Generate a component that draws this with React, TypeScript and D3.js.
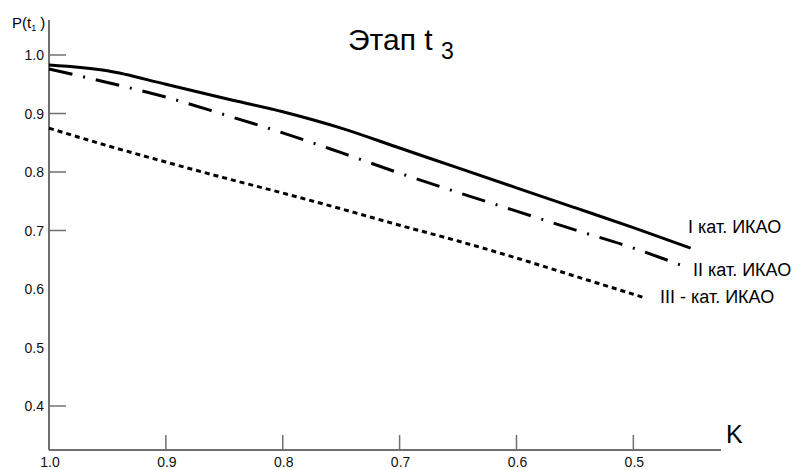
import { useEffect, useRef } from 'react';
import * as d3 from 'd3';

// K values (x axis runs from 1.0 down to ~0.43)
const kCat1 = [1.0, 0.95, 0.9, 0.85, 0.8, 0.75, 0.7, 0.65, 0.6, 0.55, 0.5, 0.451];
const pCat1 = [0.983, 0.973, 0.950, 0.926, 0.903, 0.875, 0.841, 0.807, 0.773, 0.739, 0.705, 0.670];

const kCat2 = [1.0, 0.95, 0.9, 0.85, 0.8, 0.75, 0.7, 0.65, 0.6, 0.55, 0.5, 0.453];
const pCat2 = [0.976, 0.953, 0.928, 0.898, 0.867, 0.833, 0.798, 0.765, 0.733, 0.701, 0.670, 0.636];

const kCat3 = [1.0, 0.95, 0.9, 0.85, 0.8, 0.75, 0.7, 0.65, 0.6, 0.55, 0.5, 0.492];
const pCat3 = [0.875, 0.845, 0.817, 0.790, 0.764, 0.737, 0.709, 0.682, 0.653, 0.622, 0.591, 0.586];

const seriesLabels = ['I кат. ИКАО', 'II кат. ИКАО', 'III - кат. ИКАО'];

const xTicks = [1.0, 0.9, 0.8, 0.7, 0.6, 0.5];
const yTicks = [1.0, 0.9, 0.8, 0.7, 0.6, 0.5, 0.4];
const yTicksWithMark = [1.0, 0.9, 0.8, 0.7, 0.4];

const FONT = '"Liberation Sans", Arial, sans-serif';

const App = () => {
    const graphRef = useRef<SVGSVGElement | null>(null);

    useEffect(() => {
        const svg = d3.select(graphRef.current);
        svg.selectAll('*').remove();

        const x = d3.scaleLinear().domain([1.0, 0.425]).range([49, 721]);
        const y = d3.scaleLinear().domain([0.4, 1.0]).range([406, 55]);
        const axisColor = '#707070';

        // axes lines
        svg.append('line')
            .attr('x1', x(1.0)).attr('x2', x(1.0))
            .attr('y1', 20).attr('y2', 450)
            .attr('stroke', axisColor).attr('stroke-width', 2);
        svg.append('line')
            .attr('x1', x(1.0)).attr('x2', x(0.425))
            .attr('y1', 450).attr('y2', 450)
            .attr('stroke', axisColor).attr('stroke-width', 2);

        // y ticks
        svg.selectAll('.ytick')
            .data(yTicksWithMark)
            .enter()
            .append('line')
            .attr('x1', x(1.0)).attr('x2', x(1.0) + 17)
            .attr('y1', d => y(d)).attr('y2', d => y(d))
            .attr('stroke', axisColor).attr('stroke-width', 1.5);

        svg.selectAll('.ylabel')
            .data(yTicks)
            .enter()
            .append('text')
            .attr('x', 44)
            .attr('y', d => y(d) + 5)
            .attr('text-anchor', 'end')
            .attr('font-size', '14px')
            .attr('font-family', FONT)
            .attr('fill', '#111')
            .text(d => d.toFixed(1));

        // x ticks
        svg.selectAll('.xtick')
            .data(xTicks.filter(d => d < 1))
            .enter()
            .append('line')
            .attr('x1', d => x(d)).attr('x2', d => x(d))
            .attr('y1', 450).attr('y2', 435)
            .attr('stroke', axisColor).attr('stroke-width', 1.5);

        svg.selectAll('.xlabel')
            .data(xTicks)
            .enter()
            .append('text')
            .attr('x', d => x(d) + 1)
            .attr('y', 467)
            .attr('text-anchor', 'middle')
            .attr('font-size', '14px')
            .attr('font-family', FONT)
            .attr('fill', '#111')
            .text(d => d.toFixed(1));

        // axis titles
        svg.append('text')
            .attr('x', 726).attr('y', 443)
            .attr('font-size', '25px')
            .attr('font-family', FONT)
            .text('K');

        const pLabel = svg.append('text')
            .attr('x', 12).attr('y', 28)
            .attr('font-size', '15px')
            .attr('font-family', FONT);
        pLabel.append('tspan').text('P(t');
        pLabel.append('tspan').attr('font-size', '9px').attr('dy', 3).text('1');
        pLabel.append('tspan').attr('dy', -3).text(' )');

        const title = svg.append('text')
            .attr('x', 348).attr('y', 50)
            .attr('font-size', '30px')
            .attr('font-family', FONT);
        title.append('tspan').text('Этап t ');
        title.append('tspan').attr('font-size', '23px').attr('dy', 9).text('3');

        // curves
        const line = d3.line<[number, number]>()
            .x(d => x(d[0]))
            .y(d => y(d[1]))
            .curve(d3.curveMonotoneX);

        const series = [
            { k: kCat1, p: pCat1, dash: null },
            { k: kCat2, p: pCat2, dash: '24 11 2 11' },
            { k: kCat3, p: pCat3, dash: '5 4' },
        ];

        series.forEach(s => {
            const pts = s.k.map((k, i) => [k, s.p[i]] as [number, number]);
            const path = svg.append('path')
                .attr('d', line(pts))
                .attr('fill', 'none')
                .attr('stroke', '#000')
                .attr('stroke-width', 3);
            if (s.dash) path.attr('stroke-dasharray', s.dash);
        });

        // series labels
        const labelPos = [
            { x: 688, y: 233 },
            { x: 693, y: 276 },
            { x: 660, y: 303 },
        ];
        svg.selectAll('.slabel')
            .data(seriesLabels)
            .enter()
            .append('text')
            .attr('x', (_d, i) => labelPos[i].x)
            .attr('y', (_d, i) => labelPos[i].y)
            .attr('font-size', '18px')
            .attr('font-family', FONT)
            .text(d => d);
    }, []);

    return (
        <svg
            ref={graphRef}
            width={797}
            height={470}
            style={{ position: 'absolute', left: 0, top: 0, background: '#fff' }}
        />
    );
};

export default App;
